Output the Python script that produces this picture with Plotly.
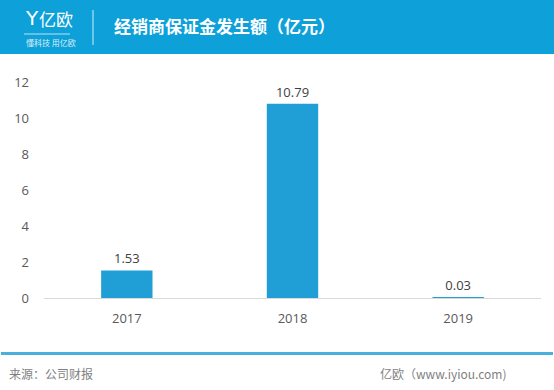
import plotly.graph_objects as go

years = ["2017", "2018", "2019"]
values = [1.53, 10.79, 0.03]
value_labels = ["1.53", "10.79", "0.03"]
y_ticks = [0, 2, 4, 6, 8, 10, 12]

W, H = 554, 390
L, R, T, B = 44, 13, 82, 92
pw, ph = W - L - R, H - T - B

def px(x):
    return (x - L) / pw

def py(y):
    return (H - B - y) / ph

CJK = "Noto Sans CJK SC"
NUM = "Open Sans, Noto Sans CJK SC"

fig = go.Figure()
fig.add_trace(go.Bar(
    x=years, y=values, width=0.31,
    marker=dict(color="#1f9fd6", line=dict(width=0)),
    text=value_labels, textposition="outside", cliponaxis=False,
    textfont=dict(family=NUM, size=13, color="#404040"),
))

shapes = [
    dict(type="rect", xref="paper", yref="paper", x0=px(0), x1=px(W), y0=py(0), y1=py(54),
         fillcolor="#0ea1d9", line=dict(width=0), layer="below"),
    dict(type="line", xref="paper", yref="paper", x0=px(93), x1=px(93), y0=py(10), y1=py(45),
         line=dict(color="rgba(255,255,255,0.8)", width=1)),
    dict(type="line", xref="paper", yref="paper", x0=px(24), x1=px(70), y0=py(34), y1=py(34),
         line=dict(color="rgba(255,255,255,0.7)", width=1)),
    dict(type="rect", xref="paper", yref="paper", x0=px(1), x1=px(W - 1), y0=py(352), y1=py(355),
         fillcolor="#4aafdd", line=dict(width=0)),
]

annotations = [
    dict(text="Y", x=px(23), y=py(18), xanchor="left", yanchor="middle",
         font=dict(family="DejaVu Sans", size=20, color="white")),
    dict(text="亿欧", x=px(37), y=py(19), xanchor="left", yanchor="middle",
         font=dict(family=CJK, size=17, color="white")),
    dict(text="懂科技 用亿欧", x=px(24), y=py(43), xanchor="left", yanchor="middle",
         font=dict(family=CJK, size=8, color="rgba(255,255,255,0.85)")),
    dict(text="<b>经销商保证金发生额（亿元）</b>", x=px(112), y=py(26), xanchor="left", yanchor="middle",
         font=dict(family=CJK, size=17, color="white")),
    dict(text="来源：公司财报", x=px(7), y=py(373), xanchor="left", yanchor="middle",
         font=dict(family=CJK, size=12, color="#7f7f7f")),
    dict(text="亿欧（www.iyiou.com)", x=px(509), y=py(373), xanchor="right", yanchor="middle",
         font=dict(family=CJK, size=12, color="#7f7f7f")),
]
for a in annotations:
    a.update(xref="paper", yref="paper", showarrow=False)

fig.update_layout(
    width=W, height=H,
    margin=dict(l=L, r=R, t=T, b=B, pad=0),
    paper_bgcolor="white", plot_bgcolor="white",
    showlegend=False,
    shapes=shapes, annotations=annotations,
    xaxis=dict(showgrid=False, showline=True, linecolor="#d9d9d9", linewidth=1,
               ticks="", tickfont=dict(family=NUM, size=13, color="#595959"),
               ticklabelstandoff=8, fixedrange=True),
    yaxis=dict(range=[0, 12], tickvals=y_ticks, showgrid=False, zeroline=False,
               showline=False, ticks="", tickfont=dict(family=NUM, size=13, color="#595959"),
               ticklabelstandoff=14, fixedrange=True),
)

fig.write_html("out.html", config={"displayModeBar": False},
               post_script="document.body.style.margin='0';document.body.style.overflow='hidden';")
